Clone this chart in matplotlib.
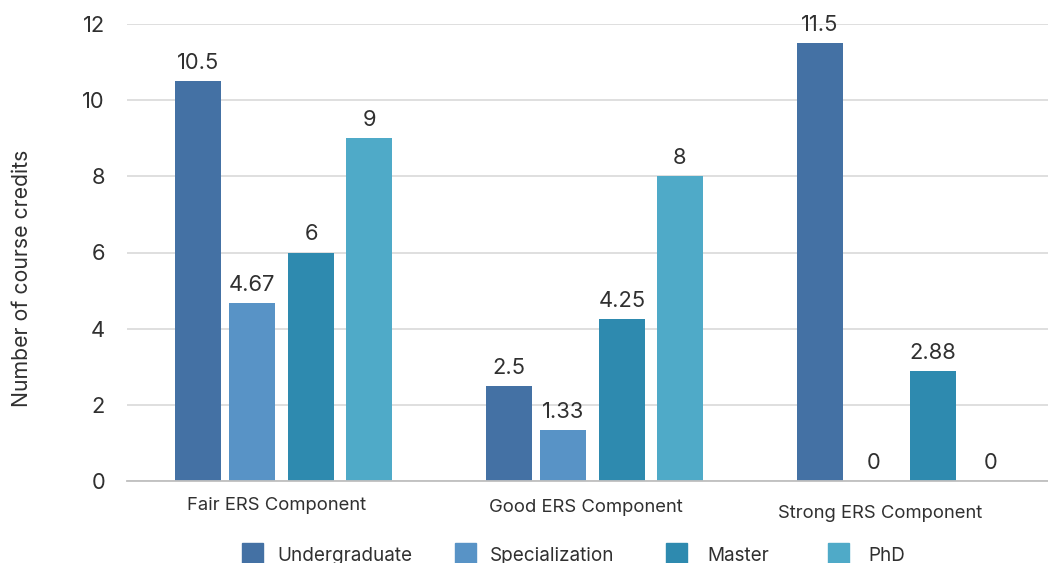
import numpy as np
import matplotlib
matplotlib.use("Agg")
import matplotlib.pyplot as plt
from matplotlib.patches import Rectangle
from matplotlib.transforms import blended_transform_factory

plt.rcParams["font.family"] = ["Inter", "DejaVu Sans"]

# ------------------------------------------------------------------ data
categories = ["Fair ERS Component", "Good ERS Component", "Strong ERS Component"]
series = ["Undergraduate", "Specialization", "Master", "PhD"]
undergraduate = [10.5, 2.5, 11.5]
specialization = [4.67, 1.33, 0]
master = [6, 4.25, 2.88]
phd = [9, 8, 0]
value_labels = [
    ["10.5", "2.5", "11.5"],
    ["4.67", "1.33", "0"],
    ["6", "4.25", "2.88"],
    ["9", "8", "0"],
]
yticks = [0, 2, 4, 6, 8, 10, 12]

# ------------------------------------------------------------------ style
colors = ["#4471a4", "#5893c6", "#2e8aaf", "#4faac8"]
text_color = "#303030"
W, H = 1048, 563
offsets = np.array([-85.5, -31.5, 27.5, 85.5]) / 311.0
bar_w = 46 / 311.0

fig = plt.figure(figsize=(W / 100, H / 100), dpi=100)
ax = fig.add_axes([127 / W, (H - 481) / H, (W - 127) / W, (481 - 24) / H])

x = np.arange(len(categories))
values = [undergraduate, specialization, master, phd]
for i, (vals, col) in enumerate(zip(values, colors)):
    bars = ax.bar(x + offsets[i], vals, width=bar_w, color=col, zorder=3)
    for b, lab in zip(bars, value_labels[i]):
        ax.annotate(lab, (b.get_x() + b.get_width() / 2, b.get_height()),
                    xytext=(0, 8.8), textcoords="offset points",
                    ha="center", va="baseline", fontsize=15.8,
                    color=text_color, zorder=4)

ax.set_xlim((127 - 283.5) / 311, (W - 283.5) / 311)
ax.set_ylim(0, 12)
ax.set_yticks(yticks)
ax.set_yticklabels([str(t) for t in yticks], fontsize=15.8, color=text_color)
ax.tick_params(axis="y", length=0, pad=15.8)
ax.set_xticks([])
ax.grid(axis="y", color="#d9d9d9", linewidth=1.2, zorder=0)
for s in ["top", "right", "left"]:
    ax.spines[s].set_visible(False)
ax.spines["bottom"].set_color("#bfbfbf")
ax.spines["bottom"].set_linewidth(1.3)
ax.spines["bottom"].set_zorder(5)

# category labels (slightly staggered like the original)
trans = blended_transform_factory(ax.transData, fig.transFigure)
cat_shift = [-6.5, -8.5, -25.5]
cat_y = [505, 508, 513]
for i, cat in enumerate(categories):
    ax.text(i + cat_shift[i] / 311, (H - cat_y[i]) / H, cat, transform=trans,
            ha="center", va="center", fontsize=13.3, color=text_color)

fig.text(22 / W, (H - 278) / H, "Number of course credits", rotation=90,
         ha="center", va="center", fontsize=15.3, color=text_color)

# legend at the bottom (cropped like the original)
leg_marker_x = [242, 455, 666, 828]
leg_text_x = [277, 490, 707, 868]
for name, col, mx, tx in zip(series, colors, leg_marker_x, leg_text_x):
    fig.add_artist(Rectangle((mx / W, 0), 21 / W, (H - 543) / H,
                             transform=fig.transFigure, color=col))
    fig.text(tx / W, (H - 561) / H, name, ha="left", va="baseline",
             fontsize=13.6, color=text_color)

fig.savefig("out.png", dpi=100)
